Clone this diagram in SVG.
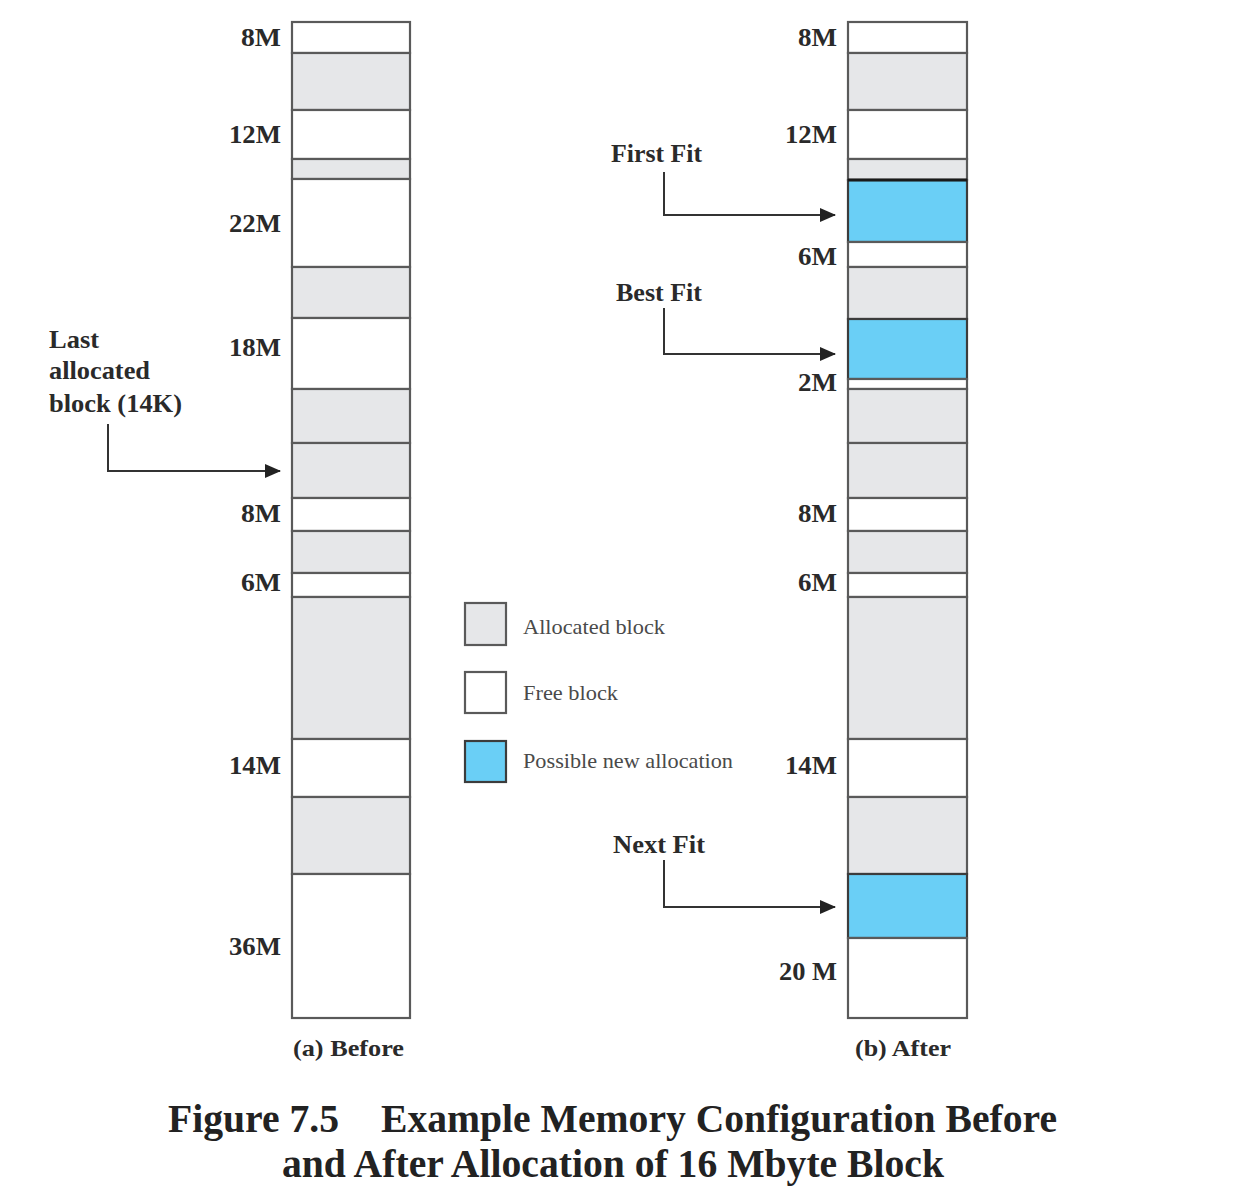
<svg xmlns="http://www.w3.org/2000/svg" width="1252" height="1200" viewBox="0 0 1252 1200">
<style>
.alloc{fill:#e6e7e9;stroke:#5a5a5a;stroke-width:2.2}
.free{fill:#ffffff;stroke:#5a5a5a;stroke-width:2.2}
.new{fill:#6acff6;stroke:#3c3c3c;stroke-width:2.2}
text{font-family:"Liberation Serif","Times New Roman",serif}
.lbl{font-weight:bold;font-size:25px;fill:#2a2a2a;text-anchor:end}
.ann{font-weight:bold;font-size:25px;fill:#2a2a2a}
.leg{font-size:22px;fill:#4a4a4a}
.cap{font-weight:bold;font-size:24px;fill:#2a2a2a}
.title{font-weight:bold;font-size:39px;fill:#222}
.conn{fill:none;stroke:#333;stroke-width:2}
</style>
<defs>
<marker id="ah" markerUnits="userSpaceOnUse" markerWidth="16" markerHeight="14" refX="15" refY="7" orient="auto">
<path d="M0,0 L16,7 L0,14 Z" fill="#222"/>
</marker>
</defs>

<g id="before">
<rect class="free" x="292" y="22" width="118" height="31"/>
<rect class="alloc" x="292" y="53" width="118" height="57"/>
<rect class="free" x="292" y="110" width="118" height="49"/>
<rect class="alloc" x="292" y="159" width="118" height="20"/>
<rect class="free" x="292" y="179" width="118" height="88"/>
<rect class="alloc" x="292" y="267" width="118" height="51"/>
<rect class="free" x="292" y="318" width="118" height="71"/>
<rect class="alloc" x="292" y="389" width="118" height="54"/>
<rect class="alloc" x="292" y="443" width="118" height="55"/>
<rect class="free" x="292" y="498" width="118" height="33"/>
<rect class="alloc" x="292" y="531" width="118" height="42"/>
<rect class="free" x="292" y="573" width="118" height="24"/>
<rect class="alloc" x="292" y="597" width="118" height="142"/>
<rect class="free" x="292" y="739" width="118" height="58"/>
<rect class="alloc" x="292" y="797" width="118" height="77"/>
<rect class="free" x="292" y="874" width="118" height="144"/>
<text class="lbl" x="281" y="46" textLength="40" lengthAdjust="spacingAndGlyphs">8M</text>
<text class="lbl" x="281" y="143" textLength="52" lengthAdjust="spacingAndGlyphs">12M</text>
<text class="lbl" x="281" y="232" textLength="52" lengthAdjust="spacingAndGlyphs">22M</text>
<text class="lbl" x="281" y="356" textLength="52" lengthAdjust="spacingAndGlyphs">18M</text>
<text class="lbl" x="281" y="522" textLength="40" lengthAdjust="spacingAndGlyphs">8M</text>
<text class="lbl" x="281" y="591" textLength="40" lengthAdjust="spacingAndGlyphs">6M</text>
<text class="lbl" x="281" y="774" textLength="52" lengthAdjust="spacingAndGlyphs">14M</text>
<text class="lbl" x="281" y="955" textLength="52" lengthAdjust="spacingAndGlyphs">36M</text>
<text class="cap" x="293" y="1056" textLength="111" lengthAdjust="spacingAndGlyphs">(a) Before</text>
</g>

<g id="after">
<rect class="free" x="848" y="22" width="119" height="31"/>
<rect class="alloc" x="848" y="53" width="119" height="57"/>
<rect class="free" x="848" y="110" width="119" height="49"/>
<rect class="alloc" x="848" y="159" width="119" height="21"/>
<rect class="new" x="848" y="180" width="119" height="62"/>
<line x1="848" y1="180" x2="967" y2="180" stroke="#1a1a1a" stroke-width="3"/>
<rect class="free" x="848" y="242" width="119" height="25"/>
<rect class="alloc" x="848" y="267" width="119" height="52"/>
<rect class="new" x="848" y="319" width="119" height="60"/>
<rect class="free" x="848" y="379" width="119" height="10"/>
<rect class="alloc" x="848" y="389" width="119" height="54"/>
<rect class="alloc" x="848" y="443" width="119" height="55"/>
<rect class="free" x="848" y="498" width="119" height="33"/>
<rect class="alloc" x="848" y="531" width="119" height="42"/>
<rect class="free" x="848" y="573" width="119" height="24"/>
<rect class="alloc" x="848" y="597" width="119" height="142"/>
<rect class="free" x="848" y="739" width="119" height="58"/>
<rect class="alloc" x="848" y="797" width="119" height="77"/>
<rect class="new" x="848" y="874" width="119" height="64"/>
<rect class="free" x="848" y="938" width="119" height="80"/>
<text class="lbl" x="837" y="46" textLength="39" lengthAdjust="spacingAndGlyphs">8M</text>
<text class="lbl" x="837" y="143" textLength="52" lengthAdjust="spacingAndGlyphs">12M</text>
<text class="lbl" x="837" y="265" textLength="39" lengthAdjust="spacingAndGlyphs">6M</text>
<text class="lbl" x="837" y="391" textLength="39" lengthAdjust="spacingAndGlyphs">2M</text>
<text class="lbl" x="837" y="522" textLength="39" lengthAdjust="spacingAndGlyphs">8M</text>
<text class="lbl" x="837" y="591" textLength="39" lengthAdjust="spacingAndGlyphs">6M</text>
<text class="lbl" x="837" y="774" textLength="52" lengthAdjust="spacingAndGlyphs">14M</text>
<text class="lbl" x="837" y="980" textLength="58" lengthAdjust="spacingAndGlyphs">20 M</text>
<text class="cap" x="855" y="1056" textLength="96" lengthAdjust="spacingAndGlyphs">(b) After</text>
</g>

<g id="last-allocated">
<text class="ann" x="49" y="348" textLength="50" lengthAdjust="spacingAndGlyphs">Last</text>
<text class="ann" x="49" y="379" textLength="101" lengthAdjust="spacingAndGlyphs">allocated</text>
<text class="ann" x="49" y="412" textLength="133" lengthAdjust="spacingAndGlyphs">block (14K)</text>
</g>
<g id="first-fit"><text class="ann" x="611" y="162" textLength="91" lengthAdjust="spacingAndGlyphs">First Fit</text></g>
<g id="best-fit"><text class="ann" x="616" y="301" textLength="86" lengthAdjust="spacingAndGlyphs">Best Fit</text></g>
<g id="next-fit"><text class="ann" x="613" y="853" textLength="92" lengthAdjust="spacingAndGlyphs">Next Fit</text></g>

<g id="legend">
<rect class="alloc" x="465" y="603" width="41" height="42"/>
<rect class="free" x="465" y="672" width="41" height="41"/>
<rect class="new" x="465" y="741" width="41" height="41"/>
<text class="leg" x="523" y="634" textLength="142" lengthAdjust="spacingAndGlyphs">Allocated block</text>
<text class="leg" x="523" y="700" textLength="95" lengthAdjust="spacingAndGlyphs">Free block</text>
<text class="leg" x="523" y="768" textLength="210" lengthAdjust="spacingAndGlyphs">Possible new allocation</text>
</g>

<g id="connectors">
<path class="conn" d="M108,424 V471 H280" marker-end="url(#ah)"/>
<path class="conn" d="M664,172 V215 H835" marker-end="url(#ah)"/>
<path class="conn" d="M664,308 V354 H835" marker-end="url(#ah)"/>
<path class="conn" d="M664,860 V907 H835" marker-end="url(#ah)"/>
</g>

<g id="title">
<text class="title" x="168" y="1132" textLength="171" lengthAdjust="spacingAndGlyphs">Figure 7.5</text>
<text class="title" x="381" y="1132" textLength="676" lengthAdjust="spacingAndGlyphs">Example Memory Configuration Before</text>
<text class="title" x="282" y="1177" textLength="662" lengthAdjust="spacingAndGlyphs">and After Allocation of 16 Mbyte Block</text>
</g>
</svg>
